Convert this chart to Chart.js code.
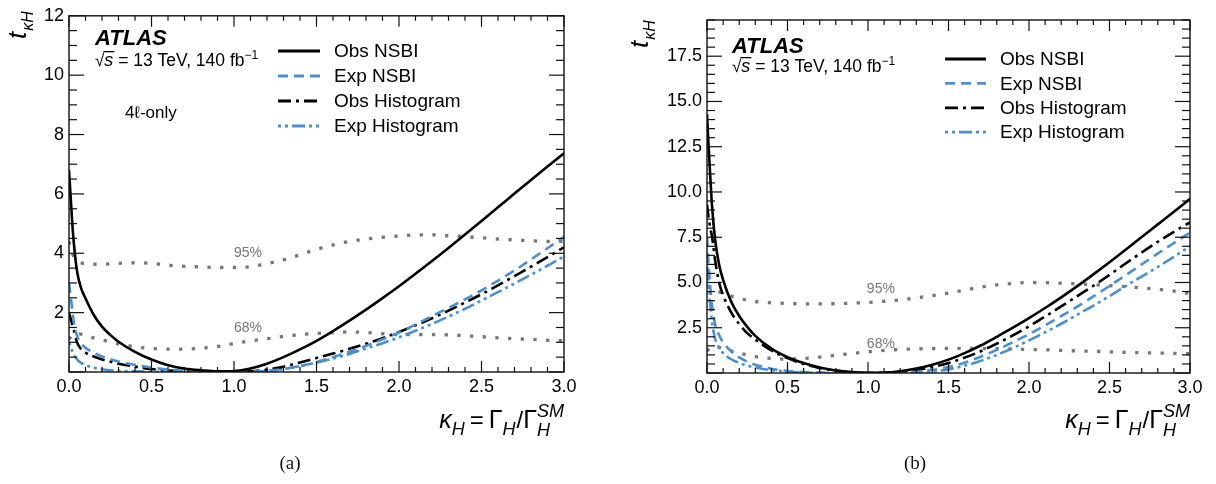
<!DOCTYPE html>
<html>
<head>
<meta charset="utf-8">
<script src="https://cdn.jsdelivr.net/npm/chart.js@4.4.1/dist/chart.umd.min.js"></script>
<style>
  html, body { margin: 0; padding: 0; background: #fff; }
  #wrap { position: relative; width: 1216px; height: 484px; overflow: hidden; background: #fff; }
  canvas { position: absolute; top: 0; }
  #panelA { left: 0; }
  #panelB { left: 608px; }
  .cap { position: absolute; top: 452px; transform: translateX(-50%);
         font-family: "Liberation Serif", "Times New Roman", serif; font-size: 19px; color: #111; }
</style>
</head>
<body>
<div id="wrap">
  <canvas id="panelA" width="608" height="484"></canvas>
  <canvas id="panelB" width="608" height="484"></canvas>
  <div class="cap" style="left:290px">(a)</div>
  <div class="cap" style="left:915px">(b)</div>
</div>
<script>
// ---- scan points in kappa_H for the likelihood curves ----
const kappaH = [0, 0.01, 0.02, 0.03, 0.05, 0.075, 0.1, 0.15, 0.2, 0.25, 0.3, 0.4, 0.5, 0.6, 0.7, 0.8, 0.9, 1.0,
                1.1, 1.2, 1.3, 1.4, 1.5, 1.6, 1.7, 1.8, 1.9, 2.0, 2.1, 2.2, 2.3, 2.4, 2.5, 2.6, 2.7, 2.8, 2.9, 3.0];
// scan points for the 68% / 95% threshold curves
const kappaCL = [0, 0.02, 0.05, 0.1, 0.2, 0.3, 0.4, 0.5, 0.6, 0.7, 0.8, 0.9, 1.0, 1.1, 1.2, 1.3, 1.4, 1.5,
                 1.6, 1.7, 1.8, 1.9, 2.0, 2.1, 2.2, 2.3, 2.4, 2.5, 2.6, 2.7, 2.8, 2.9, 3.0];

const seriesLabels = ['Obs NSBI', 'Exp NSBI', 'Obs Histogram', 'Exp Histogram'];

// ---- (a) 4l-only ----
const obsNsbiA = [6.8, 5.9, 5.0, 4.3, 3.35, 2.8, 2.48, 1.92, 1.53, 1.25, 1.02, 0.68, 0.42, 0.23, 0.12, 0.06, 0.02, 0.03,
                  0.12, 0.28, 0.5, 0.76, 1.05, 1.38, 1.73, 2.1, 2.49, 2.89, 3.31, 3.74, 4.18, 4.63, 5.09, 5.55, 6.01, 6.47, 6.92, 7.37];
const expNsbiA = [3.0, 2.55, 2.1, 1.65, 1.2, 0.95, 0.82, 0.65, 0.52, 0.43, 0.35, 0.24, 0.15, 0.08, 0.04, 0.01, 0.0, 0.0,
                  0.01, 0.04, 0.1, 0.2, 0.33, 0.5, 0.68, 0.88, 1.1, 1.33, 1.6, 1.88, 2.16, 2.45, 2.75, 3.08, 3.42, 3.79, 4.17, 4.55];
const obsHistA = [2.0, 1.8, 1.6, 1.4, 0.98, 0.76, 0.65, 0.52, 0.42, 0.35, 0.28, 0.18, 0.1, 0.05, 0.02, 0.0, 0.0, 0.0,
                  0.02, 0.08, 0.18, 0.32, 0.47, 0.62, 0.78, 0.95, 1.14, 1.35, 1.57, 1.81, 2.07, 2.34, 2.62, 2.92, 3.23, 3.55, 3.87, 4.2];
const expHistA = [1.0, 0.85, 0.7, 0.58, 0.42, 0.3, 0.23, 0.14, 0.09, 0.06, 0.04, 0.02, 0.01, 0.0, 0.0, 0.0, 0.0, 0.0,
                  0.0, 0.03, 0.1, 0.2, 0.32, 0.45, 0.61, 0.79, 0.97, 1.17, 1.39, 1.62, 1.87, 2.13, 2.41, 2.69, 2.98, 3.28, 3.58, 3.9];
const cl95A = [4.4, 4.0, 3.75, 3.65, 3.63, 3.66, 3.68, 3.66, 3.6, 3.56, 3.54, 3.52, 3.52, 3.55, 3.65, 3.78, 3.95,
               4.13, 4.28, 4.4, 4.48, 4.54, 4.58, 4.62, 4.62, 4.59, 4.56, 4.52, 4.48, 4.45, 4.42, 4.4, 4.4];
const cl68A = [1.1, 1.25, 1.3, 1.22, 1.08, 0.95, 0.85, 0.79, 0.77, 0.77, 0.8, 0.86, 0.96, 1.05, 1.12, 1.2, 1.26,
               1.3, 1.33, 1.35, 1.33, 1.29, 1.26, 1.26, 1.26, 1.25, 1.22, 1.19, 1.15, 1.12, 1.1, 1.07, 1.05];

// ---- (b) combined ----
const obsNsbiB = [14.3, 12.5, 10.9, 9.4, 7.4, 6.0, 5.15, 3.95, 3.15, 2.55, 2.05, 1.35, 0.88, 0.55, 0.3, 0.14, 0.05, 0.01,
                  0.02, 0.1, 0.25, 0.46, 0.74, 1.1, 1.52, 2.0, 2.5, 3.03, 3.59, 4.18, 4.8, 5.45, 6.12, 6.81, 7.51, 8.21, 8.91, 9.62];
const expNsbiB = [7.5, 6.0, 4.8, 3.8, 2.7, 2.1, 1.7, 1.2, 0.86, 0.63, 0.46, 0.24, 0.11, 0.05, 0.02, 0.0, 0.0, 0.0,
                  0.0, 0.02, 0.07, 0.17, 0.33, 0.57, 0.9, 1.28, 1.7, 2.15, 2.63, 3.14, 3.67, 4.23, 4.81, 5.4, 6.0, 6.6, 7.18, 7.75];
const obsHistB = [9.3, 8.6, 8.0, 7.6, 6.25, 5.0, 4.3, 3.35, 2.7, 2.2, 1.85, 1.25, 0.82, 0.5, 0.27, 0.13, 0.04, 0.0,
                  0.02, 0.07, 0.17, 0.33, 0.55, 0.85, 1.2, 1.62, 2.08, 2.58, 3.12, 3.68, 4.25, 4.82, 5.42, 6.05, 6.66, 7.25, 7.8, 8.32];
const expHistB = [6.6, 5.0, 3.8, 2.9, 1.9, 1.4, 1.1, 0.76, 0.56, 0.4, 0.3, 0.16, 0.08, 0.03, 0.01, 0.0, 0.0, 0.0,
                  0.0, 0.0, 0.02, 0.08, 0.2, 0.4, 0.67, 1.0, 1.38, 1.8, 2.25, 2.72, 3.22, 3.72, 4.25, 4.8, 5.33, 5.86, 6.42, 7.0];
const cl95B = [4.8, 4.7, 4.6, 4.4, 4.12, 3.95, 3.88, 3.84, 3.82, 3.82, 3.83, 3.86, 3.9, 3.96, 4.04, 4.15, 4.28,
               4.42, 4.58, 4.74, 4.87, 4.95, 5.0, 4.99, 4.96, 4.92, 4.88, 4.83, 4.77, 4.7, 4.62, 4.52, 4.38];
const cl68B = [1.2, 1.4, 1.45, 1.35, 1.1, 0.9, 0.8, 0.77, 0.8, 0.88, 0.98, 1.08, 1.17, 1.25, 1.3, 1.33, 1.35,
               1.36, 1.36, 1.35, 1.34, 1.32, 1.3, 1.28, 1.25, 1.22, 1.2, 1.17, 1.14, 1.12, 1.1, 1.08, 1.07];

const clLabels = ['95%', '68%'];

// ---- styling ----
const SANS = '"Liberation Sans", Arial, Helvetica, sans-serif';
const BLUE = '#4a8fd0';
const GREY = '#777777';
const lineStyles = [
  { color: '#000', dash: [] },
  { color: BLUE,   dash: [10, 6] },
  { color: '#000', dash: [13, 5, 3, 5] },
  { color: BLUE,   dash: [3, 4, 3, 4, 13, 4] }
];

function pts(xs, ys) { return xs.map((x, i) => ({ x: x, y: ys[i] })); }

function buildDatasets(curves, c95, c68) {
  const ds = curves.map((ys, i) => ({
    label: seriesLabels[i],
    data: pts(kappaH, ys),
    borderColor: lineStyles[i].color,
    borderDash: lineStyles[i].dash,
    borderWidth: 2.6,
    pointRadius: 0,
    fill: false,
    cubicInterpolationMode: 'monotone'
  }));
  [c95, c68].forEach((ys, j) => ds.push({
    label: clLabels[j],
    data: pts(kappaCL, ys),
    borderColor: GREY,
    borderDash: [3.3, 9.4],
    borderWidth: 3.3,
    pointRadius: 0,
    fill: false,
    cubicInterpolationMode: 'monotone'
  }));
  return ds;
}

// frame box with inward major/minor ticks on all four sides
const frameTicks = {
  id: 'frameTicks',
  afterDatasetsDraw(chart, _args, o) {
    const { ctx, chartArea: a } = chart;
    const xs = chart.scales.x, ys = chart.scales.y;
    const near = (v, s) => Math.abs(v / s - Math.round(v / s)) < 1e-6;
    ctx.save();
    ctx.setLineDash([]);
    ctx.strokeStyle = '#111';
    ctx.lineWidth = 1.2;
    const seg = (x0, y0, x1, y1) => { ctx.beginPath(); ctx.moveTo(x0, y0); ctx.lineTo(x1, y1); ctx.stroke(); };
    const nx = Math.round((xs.max - xs.min) / o.xMinor);
    for (let i = 0; i <= nx; i++) {
      const v = xs.min + i * o.xMinor;
      const px = xs.getPixelForValue(v);
      const len = near(v, o.xMajor) ? o.xMajorLen : o.xMinorLen;
      seg(px, a.bottom, px, a.bottom - len);
      seg(px, a.top, px, a.top + len);
    }
    const ny = Math.floor((ys.max - ys.min) / o.yMinor + 1e-9);
    for (let i = 0; i <= ny; i++) {
      const v = ys.min + i * o.yMinor;
      const py = ys.getPixelForValue(v);
      const len = near(v, o.yMajor) ? o.yMajorLen : o.yMinorLen;
      seg(a.left, py, a.left + len, py);
      seg(a.right, py, a.right - len, py);
    }
    ctx.lineWidth = 1.4;
    ctx.strokeRect(a.left, a.top, a.right - a.left, a.bottom - a.top);
    ctx.restore();
  }
};

// measure / draw a run of text pieces (sub/superscripts via dy, stacked pieces via stack)
function runText(ctx, x, y, parts, draw) {
  for (const p of parts) {
    if (p.stack) {
      let w = 0;
      for (const q of p.stack) {
        ctx.font = q.font;
        if (draw) ctx.fillText(q.t, x, y + (q.dy || 0));
        w = Math.max(w, ctx.measureText(q.t).width);
      }
      x += w;
      continue;
    }
    x += p.dx || 0;
    ctx.font = p.font;
    if (draw) ctx.fillText(p.t, x, y + (p.dy || 0));
    x += ctx.measureText(p.t).width + (p.after || 0);
  }
  return x;
}

// experiment label, legend, threshold labels and axis titles
const decor = {
  id: 'decor',
  afterDraw(chart, _args, o) {
    const { ctx, chartArea: a } = chart;
    const xs = chart.scales.x, ys = chart.scales.y;
    ctx.save();
    ctx.textBaseline = 'alphabetic';
    ctx.textAlign = 'left';
    ctx.fillStyle = '#000';

    // ATLAS label
    ctx.font = `bold italic 22px ${SANS}`;
    ctx.fillText('ATLAS', o.atlas.x, o.atlas.y);

    // sqrt(s) = 13 TeV, 140 fb^-1
    const ex = o.energy.x, ey = o.energy.y;
    ctx.font = `17px ${SANS}`;
    ctx.fillText('\u221A', ex, ey);
    const rw = ctx.measureText('\u221A').width;
    ctx.font = `italic 18px ${SANS}`;
    const sw = ctx.measureText('s').width;
    ctx.fillText('s', ex + rw, ey);
    ctx.fillRect(ex + rw - 1, ey - 15, sw + 2, 1.3);
    runText(ctx, ex + rw + sw, ey, [
      { t: ' = 13 TeV, 140 fb', font: `17.5px ${SANS}` },
      { t: '\u22121', font: `12px ${SANS}`, dy: -7 }
    ], true);

    if (o.extra) {
      ctx.font = `17px ${SANS}`;
      ctx.fillText(o.extra.t, o.extra.x, o.extra.y);
    }

    // legend
    const L = o.legend;
    chart.data.datasets.slice(0, 4).forEach((ds, i) => {
      const yy = L.y0 + i * L.dy;
      ctx.save();
      ctx.strokeStyle = ds.borderColor;
      ctx.lineWidth = 2.8;
      ctx.setLineDash(ds.borderDash);
      ctx.beginPath();
      ctx.moveTo(L.x0, yy);
      ctx.lineTo(L.x1, yy);
      ctx.stroke();
      ctx.restore();
      ctx.font = `19px ${SANS}`;
      ctx.textBaseline = 'middle';
      ctx.fillText(ds.label, L.tx, yy + 1);
      ctx.textBaseline = 'alphabetic';
    });

    // threshold labels placed in data coordinates
    ctx.fillStyle = GREY;
    ctx.font = `14px ${SANS}`;
    ctx.textAlign = 'center';
    o.cl.forEach((c, i) => {
      ctx.fillText(clLabels[i], xs.getPixelForValue(c.x), ys.getPixelForValue(c.y));
    });
    ctx.textAlign = 'left';
    ctx.fillStyle = '#000';

    // x-axis title, right aligned to the frame
    const xParts = [
      { t: '\u03BA', font: `italic 25px ${SANS}` },
      { t: 'H', font: `italic 18px ${SANS}`, dy: 7 },
      { t: '=', font: `24px ${SANS}`, dx: 5, after: 5 },
      { t: '\u0393', font: `25px ${SANS}` },
      { t: 'H', font: `italic 18px ${SANS}`, dy: 7, after: 1 },
      { t: '/', font: `24px ${SANS}` },
      { t: '\u0393', font: `25px ${SANS}` },
      { stack: [ { t: 'SM', font: `italic 18px ${SANS}`, dy: -11 },
                 { t: 'H',  font: `italic 18px ${SANS}`, dy: 8 } ] }
    ];
    const w = runText(ctx, 0, 0, xParts, false);
    runText(ctx, a.right - w, o.xTitleY, xParts, true);

    // y-axis title, rotated
    ctx.save();
    ctx.translate(o.yTitle.x, o.yTitle.y);
    ctx.rotate(-Math.PI / 2);
    runText(ctx, 0, 0, [
      { t: 't', font: `italic 26px ${SANS}`, after: 1 },
      { t: '\u03BA', font: `italic 16px ${SANS}`, dy: 7 },
      { t: 'H', font: `italic 16px ${SANS}`, dy: 7 }
    ], true);
    ctx.restore();

    ctx.restore();
  }
};

function makePanel(id, datasets, yCfg, padding, yWidth, tickOpts, decorOpts) {
  return new Chart(document.getElementById(id), {
    type: 'line',
    data: { datasets: datasets },
    plugins: [frameTicks, decor],
    options: {
      responsive: false,
      animation: false,
      devicePixelRatio: 1,
      layout: { padding: padding },
      plugins: {
        legend: { display: false },
        tooltip: { enabled: false },
        frameTicks: tickOpts,
        decor: decorOpts
      },
      scales: {
        x: {
          type: 'linear', min: 0, max: 3,
          grid: { display: false, drawTicks: false },
          border: { display: false },
          afterFit: (s) => { s.height = 30; },
          ticks: {
            stepSize: 0.5, autoSkip: false, maxRotation: 0, padding: 4, color: '#000',
            font: { family: SANS, size: 18 },
            callback: (v) => Number(v).toFixed(1)
          }
        },
        y: {
          type: 'linear', min: 0, max: yCfg.max,
          grid: { display: false, drawTicks: false },
          border: { display: false },
          afterFit: (s) => { s.width = yWidth; },
          ticks: {
            stepSize: yCfg.step, includeBounds: false, autoSkip: false, padding: 5, color: '#000',
            font: { family: SANS, size: 18 },
            callback: (v) => (v === 0 ? '' : (yCfg.decimals ? Number(v).toFixed(1) : String(v)))
          }
        }
      }
    }
  });
}

makePanel('panelA',
  buildDatasets([obsNsbiA, expNsbiA, obsHistA, expHistA], cl95A, cl68A),
  { max: 12, step: 2, decimals: false },
  { left: 0, top: 11, right: 44, bottom: 82 }, 69,
  { xMinor: 0.1, xMajor: 0.5, xMajorLen: 11, xMinorLen: 5, yMinor: 0.5, yMajor: 2, yMajorLen: 15, yMinorLen: 8 },
  {
    atlas: { x: 95, y: 45 },
    energy: { x: 95, y: 66 },
    extra: { t: '4\u2113-only', x: 125, y: 118 },
    legend: { x0: 278, x1: 320, tx: 334, y0: 51, dy: 25 },
    cl: [ { x: 1.085, y: 3.86 }, { x: 1.085, y: 1.36 } ],
    xTitleY: 428,
    yTitle: { x: 26, y: 39 }
  });

makePanel('panelB',
  buildDatasets([obsNsbiB, expNsbiB, obsHistB, expHistB], cl95B, cl68B),
  { max: 19.5, step: 2.5, decimals: true },
  { left: 0, top: 20, right: 26, bottom: 81 }, 99,
  { xMinor: 0.1, xMajor: 0.5, xMajorLen: 11, xMinorLen: 5, yMinor: 0.5, yMajor: 2.5, yMajorLen: 15, yMinorLen: 8 },
  {
    atlas: { x: 124, y: 53 },
    energy: { x: 124, y: 72 },
    extra: null,
    legend: { x0: 337, x1: 378, tx: 392, y0: 59, dy: 24.4 },
    cl: [ { x: 1.08, y: 4.43 }, { x: 1.08, y: 1.4 } ],
    xTitleY: 428,
    yTitle: { x: 40, y: 48 }
  });
</script>
</body>
</html>
